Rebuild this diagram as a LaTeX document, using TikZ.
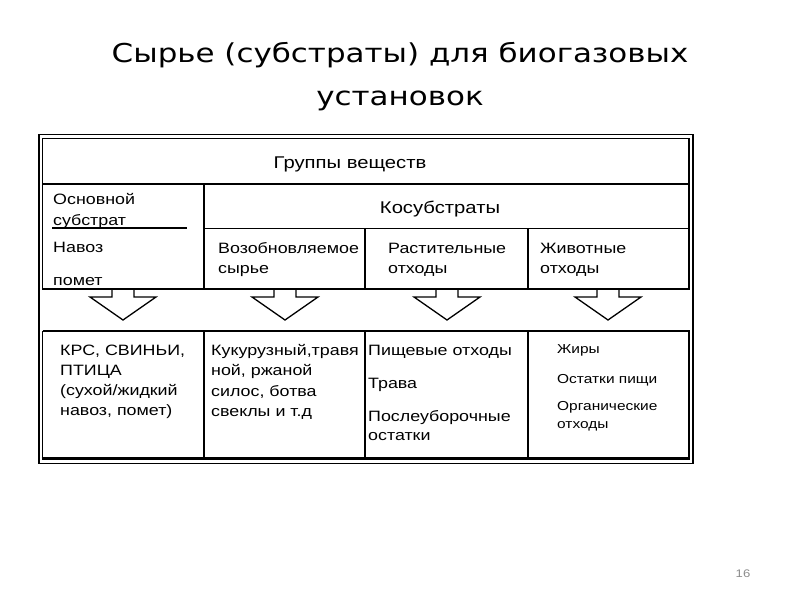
\documentclass[tikz,border=0pt]{standalone}
\usepackage{fontspec}
\setmainfont{Liberation Sans}[FakeStretch=1.19]
\newfontfamily\titlefont{DejaVu Sans}[FakeStretch=1.19]
\begin{document}
\begin{tikzpicture}[x=1pt,y=-1pt,
  tline/.style={line width=1.6pt,black},
  oline/.style={line width=1.2pt,black},
  arr/.style={line width=1.3pt,black,line join=miter},
  txt/.style={anchor=base west,inner sep=0pt,font=\fontsize{15}{18}\selectfont},
  txts/.style={anchor=base west,inner sep=0pt,font=\fontsize{13}{15}\selectfont},
  txtc/.style={anchor=base,inner sep=0pt,font=\fontsize{17}{20}\selectfont},
  ttl/.style={anchor=base,inner sep=0pt,font=\titlefont\fontsize{26}{31}\selectfont}]
\useasboundingbox (0,0) rectangle (800,600);
\fill[white] (0,0) rectangle (800,600);
% title
\node[ttl] (t1) at (400,62) {Сырье (субстраты) для биогазовых};
\node[ttl] (t2) at (400,105) {установок};
% outer frame
\draw[oline] (39,134.5) rectangle (693,463.5);
% upper table
\draw[tline] (42.5,138.5) rectangle (689,289);
\draw[tline] (42.5,184) -- (689,184);
\draw[tline] (204,184) -- (204,289);
\draw[tline] (204,228.5) -- (689,228.5);
\draw[tline] (52,228) -- (187,228);
\draw[tline] (365,228.5) -- (365,289);
\draw[tline] (528,228.5) -- (528,289);
% arrows
\foreach \c in {123,285,447,608}{
  \draw[arr] (\c-11,289.8) -- (\c-11,297) -- (\c-33,297) -- (\c,320) -- (\c+33,297) -- (\c+11,297) -- (\c+11,289.8);
}
% lower table
\draw[tline] (42.5,331) -- (689,331) -- (689,458.5);
\draw[tline] (42.5,458.5) -- (42.5,331);
\draw[line width=2.6pt] (41.7,458.5) -- (689.8,458.5);
\draw[tline] (204,331) -- (204,458.5);
\draw[tline] (365,331) -- (365,458.5);
\draw[tline] (528,331) -- (528,458.5);
% texts upper
\node[txtc] (g) at (350,168) {Группы веществ};
\node[txtc] (k) at (440,213) {Косубстраты};
\node[txt] (o1) at (53,204) {Основной};
\node[txt] (o2) at (53,225) {субстрат};
\node[txt] (n1) at (53,252) {Навоз};
\node[txt] (n2) at (53,285) {помет};
\node[txt] (v1) at (218,253) {Возобновляемое};
\node[txt] (v2) at (218,273) {сырье};
\node[txt] (r1) at (388,253) {Растительные};
\node[txt] (r2) at (388,273) {отходы};
\node[txt] (z1) at (540,253) {Животные};
\node[txt] (z2) at (540,273) {отходы};
% texts lower
\node[txt] (a1) at (60,355) {КРС, СВИНЬИ,};
\node[txt] (a2) at (60,375) {ПТИЦА};
\node[txt] (a3) at (60,395) {(сухой/жидкий};
\node[txt] (a4) at (60,415) {навоз, помет)};
\node[txt] (b1) at (211,355) {Кукурузный,травя};
\node[txt] (b2) at (211,375) {ной, ржаной};
\node[txt] (b3) at (211,396) {силос, ботва};
\node[txt] (b4) at (211,416) {свеклы и т.д};
\node[txt] (c1) at (368,355) {Пищевые отходы};
\node[txt] (c2) at (368,388) {Трава};
\node[txt] (c3) at (368,421) {Послеуборочные};
\node[txt] (c4) at (368,440) {остатки};
\node[txts] (d1) at (557,353) {Жиры};
\node[txts] (d2) at (557,383) {Остатки пищи};
\node[txts] (d3) at (557,410) {Органические};
\node[txts] (d4) at (557,428) {отходы};
% page number
\node[anchor=base,inner sep=0pt,text=black!45,font=\fontsize{11}{13}\selectfont] (pn) at (743,577) {16};
\end{tikzpicture}
\end{document}
